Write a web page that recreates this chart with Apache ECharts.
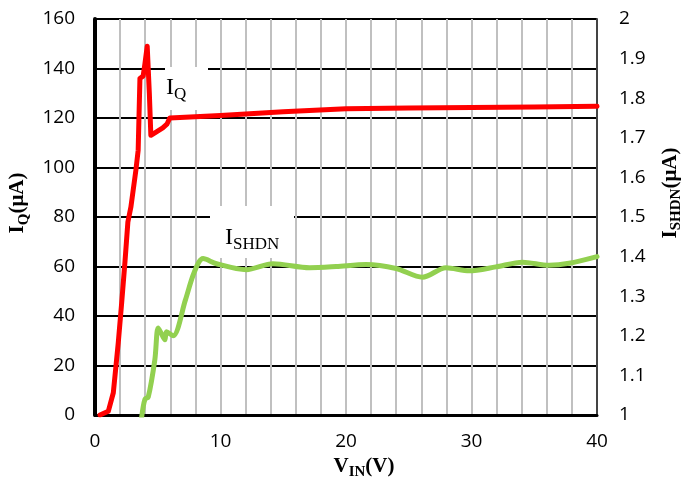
<!DOCTYPE html>
<html>
<head>
<meta charset="utf-8">
<script src="https://cdn.jsdelivr.net/npm/echarts@6/dist/echarts.min.js"></script>
<style>html,body{margin:0;padding:0;background:#fff}#c{width:693px;height:480px}</style>
</head>
<body>
<div id="c"></div>
<script>
// I_Q (µA) vs V_IN (V) — left axis
const iqData = [
  [0.4,0],[1.06,1.5],[1.46,9],[1.85,29],[2.12,45],[2.39,62],[2.62,78],[2.86,84],
  [3.26,99],[3.44,107],[3.58,136],[3.84,137],[3.98,142],[4.16,149],[4.33,130],
  [4.45,113],[4.77,114],[5.4,116],[5.73,117.5],[5.96,120],[10,121],[15,122.5],
  [20,123.7],[25,124],[30,124.2],[35,124.4],[40,124.7]
];
// I_SHDN (µA) vs V_IN (V) — right axis
const ishdnData = [
  [3.72,0.995],[3.98,1.04],[4.24,1.045],[4.77,1.14],[5.03,1.22],[5.3,1.205],[5.57,1.19],
  [5.7,1.21],[6.23,1.20],[7.2,1.29],[7.9,1.36],[8.61,1.395],[9.68,1.382],[12.06,1.367],
  [14.18,1.382],[17.1,1.372],[19.22,1.375],[21.6,1.380],[23.99,1.37],[26.1,1.348],
  [27.97,1.372],[29.82,1.364],[31.94,1.374],[34.06,1.386],[36.18,1.378],[37.77,1.383],[40,1.40]
];
const xTicks = [0,10,20,30,40];

const serif = "'Liberation Serif','Times New Roman',serif";
const sans = "'Open Sans','Liberation Sans',sans-serif";
const nameRich = {
  m:{fontFamily:serif,fontWeight:'bold',fontSize:21,lineHeight:27,color:'#000'},
  s:{fontFamily:serif,fontWeight:'bold',fontSize:15,lineHeight:15,verticalAlign:'bottom',color:'#000'}
};
const lblRich = {
  m:{fontFamily:serif,fontSize:24,lineHeight:31,fill:'#000'},
  s:{fontFamily:serif,fontSize:17,lineHeight:17,verticalAlign:'bottom',fill:'#000'}
};

const chart = echarts.init(document.getElementById('c'), null, {renderer:'canvas'});
chart.setOption({
  animation:false,
  backgroundColor:'#fff',
  grid:{left:95,right:96,top:19,bottom:65,containLabel:false,outerBoundsMode:'none'},
  xAxis:{
    type:'value',min:0,max:40,interval:2,
    name:'{m|V}{s|IN}{m|(V)}',nameLocation:'middle',nameGap:30,
    nameTextStyle:{rich:nameRich,padding:[0,0,0,36]},
    axisLine:{show:true,onZero:false,lineStyle:{color:'#000',width:3}},
    axisTick:{show:false},
    axisLabel:{margin:17,fontFamily:sans,fontSize:19,color:'#000',
      formatter:v=>xTicks.indexOf(v)>=0?String(v):''},
    splitLine:{show:true,lineStyle:{color:'#c0c0c0',width:2}}
  },
  yAxis:[{
    type:'value',min:0,max:160,interval:20,position:'left',
    name:'{m|I}{s|Q}{m|(μA)}',nameLocation:'middle',nameGap:56,nameRotate:90,
    nameTextStyle:{rich:nameRich,padding:[0,0,0,28]},
    axisLine:{show:true,lineStyle:{color:'#000',width:4}},
    axisTick:{show:false},
    axisLabel:{margin:20,fontFamily:sans,fontSize:19,color:'#000'},
    splitLine:{show:true,lineStyle:{color:'#000',width:2}}
  },{
    type:'value',min:1,max:2,interval:0.1,position:'right',
    name:'{m|I}{s|SHDN}{m|(μA)}',nameLocation:'middle',nameGap:60,nameRotate:90,
    nameTextStyle:{rich:nameRich,padding:[0,0,0,48]},
    axisLine:{show:true,lineStyle:{color:'#444',width:2}},
    axisTick:{show:false},
    axisLabel:{margin:22,fontFamily:sans,fontSize:19,color:'#000',
      formatter:v=>String(Math.round(v*10)/10)},
    splitLine:{show:false}
  }],
  series:[{
    type:'line',name:'IQ',yAxisIndex:0,data:iqData,showSymbol:false,
    lineStyle:{color:'#ff0000',width:5,cap:'round',join:'round'},
    itemStyle:{color:'#ff0000'},z:3
  },{
    type:'line',name:'ISHDN',yAxisIndex:1,data:ishdnData,showSymbol:false,smooth:0.3,
    lineStyle:{color:'#92d050',width:5,cap:'round',join:'round'},
    itemStyle:{color:'#92d050'},z:2
  }],
  graphic:[
    {type:'rect',shape:{x:165,y:67,width:43,height:43},style:{fill:'#fff'},z:10},
    {type:'text',x:166,y:72,style:{text:'{m|I}{s|Q}',rich:lblRich},z:11},
    {type:'rect',shape:{x:210,y:206,width:84,height:52},style:{fill:'#fff'},z:10},
    {type:'text',x:225,y:222,style:{text:'{m|I}{s|SHDN}',rich:lblRich},z:11}
  ]
});
</script>
</body>
</html>
